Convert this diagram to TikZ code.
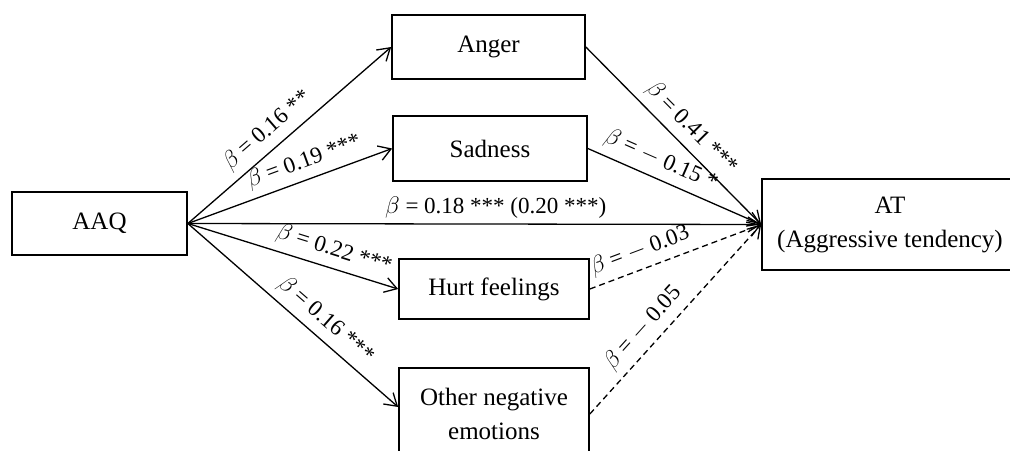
\documentclass[tikz,border=0pt]{standalone}
\usepackage{fontspec}
\setmainfont{Liberation Serif}
\usetikzlibrary{arrows.meta}
\begin{document}
\begin{tikzpicture}[x=0.5pt,y=-0.5pt,
  box/.style={draw,line width=0.85pt,inner sep=0pt,align=center,font=\fontsize{12.5}{17}\selectfont},
  conn/.style={line width=0.65pt,-{Straight Barb[length=6pt,width=7.5pt,line width=0.65pt]}},
  dsh/.style={dash pattern=on 3pt off 2pt},
  lbl/.style={font=\fontsize{11.5}{12}\selectfont,sloped,above,inner sep=3.5pt}
]
\useasboundingbox (0,0) rectangle (1010,450);
\clip (0,0) rectangle (1010,450);
\node[box,minimum width=87.5pt,minimum height=31.5pt] (aaq) at (99.5,223.5) {AAQ};
\node[box,minimum width=96.5pt,minimum height=32pt] (anger) at (488.5,47) {Anger};
\node[box,minimum width=97pt,minimum height=32.5pt] (sad) at (490,148.5) {Sadness};
\node[box,minimum width=95pt,minimum height=30pt] (hurt) at (494,289) {Hurt feelings};
\node[box,minimum width=95pt,minimum height=46pt] (other) at (494,414) {Other negative\\emotions};
\node[box,minimum width=128pt,minimum height=45.5pt] (at) at (890,224.5) {AT\\(Aggressive tendency)};

\draw[conn] (aaq.east) -- (anger.west) node[lbl,pos=0.45] {$\beta$ = 0.16 **};
\draw[conn] (aaq.east) -- (sad.west) node[lbl,pos=0.6] {$\beta$ = 0.19 ***};
\draw[conn] (aaq.east) -- (at.west) node[lbl,pos=0.537,inner sep=2.5pt] {$\beta$ = 0.18 *** (0.20 ***)};
\draw[conn] (aaq.east) -- (hurt.west) node[lbl,pos=0.67] {$\beta$ = 0.22 ***};
\draw[conn] (aaq.east) -- ([yshift=3.5pt]other.west) node[lbl,pos=0.6] {$\beta$ = 0.16 ***};
\draw[conn] (anger.east) -- (at.west) node[lbl,pos=0.53] {$\beta$ = 0.41 ***};
\draw[conn] (sad.east) -- (at.west) node[lbl,pos=0.38] {$\beta$ = $-$ 0.15 *};
\draw[conn,dsh] (hurt.east) -- (at.west) node[lbl,pos=0.33] {$\beta$ = $-$ 0.03};
\draw[conn,dsh] (other.east) -- (at.west) node[lbl,pos=0.39] {$\beta$ = $-$ 0.05};
\end{tikzpicture}
\end{document}
